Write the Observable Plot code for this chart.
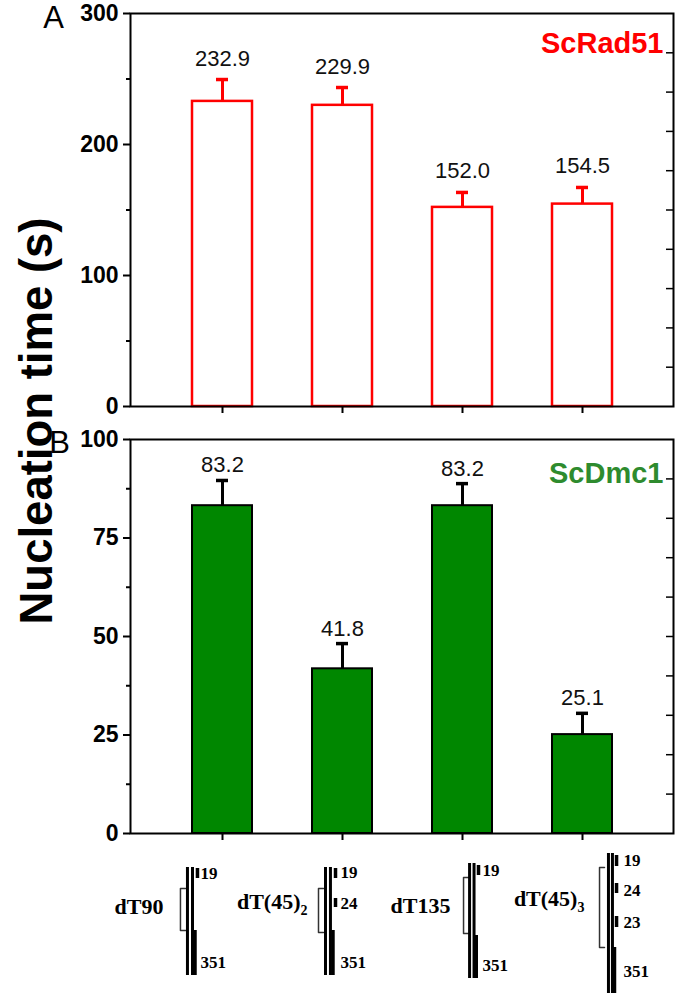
<!DOCTYPE html>
<html>
<head>
<meta charset="utf-8">
<script src="https://cdn.jsdelivr.net/npm/d3@7"></script>
<script src="https://cdn.jsdelivr.net/npm/@observablehq/plot@0.6"></script>
<style>
  body { margin: 0; background: #fff; }
  #wrap { position: relative; width: 677px; height: 996px; overflow: hidden; font-family: "Liberation Sans", Arial, sans-serif; }
  #wrap svg { position: absolute; left: 0; overflow: visible; }
  #ylab { position: absolute; left: 37px; top: 421px; transform: translate(-50%, -50%) rotate(-90deg); font: bold 45.5px "Liberation Sans", Arial, sans-serif; white-space: nowrap; line-height: 1; color: #000; }
</style>
</head>
<body>
<div id="wrap"><div id="ylab"></div></div>
<script>
// ---------- data ----------
const substrates = ["dT90", "dT(45)2", "dT135", "dT(45)3"];
const rad51Time = [232.9, 229.9, 152.0, 154.5];
const rad51Err = [16.7, 13.6, 11.4, 12.7];
const dmc1Time = [83.2, 41.8, 83.2, 25.1];
const dmc1Err = [6.4, 6.4, 5.6, 5.4];

const rad51Ticks = [0, 100, 200, 300];
const rad51Minor = [50, 150, 250];
const rad51Right = [30, 60, 90, 120, 150, 180, 210, 240, 270];
const dmc1Ticks = [0, 25, 50, 75, 100];
const dmc1Minor = [12.5, 37.5, 62.5, 87.5];
const dmc1Right = [10, 20, 30, 40, 50, 60, 70, 80, 90];

const yTitle = "Nucleation time (s)";
const panelNames = ["ScRad51", "ScDmc1"];
const panelLetters = ["A", "B"];

const diagramNames = ["dT90", "dT(45)", "dT135", "dT(45)"];
const diagramSubscripts = ["", "2", "", "3"];
const diagramSegmentLabels = [["19", "351"], ["19", "24", "351"], ["19", "351"], ["19", "24", "23", "351"]];

// ---------- layout (schematic positions of the substrate drawings) ----------
const diagramLayout = [
  {label: -0.477, labelY: 71, subY: 77, lines: [-0.278, -0.236], seg: -0.195, text: -0.170, bracket: [-0.336, -0.294], span: [25, 133], bracketY: [46, 88], segY: [[26, 36], [88, 133]], textY: [36, 125]},
  {label: -0.341, labelY: 66, subY: 72, lines: [-0.134, -0.093], seg: -0.051, text: -0.010, bracket: [-0.192, -0.151], span: [25, 133], bracketY: [46, 90], segY: [[26, 36], [56, 65], [88, 133]], textY: [35, 66, 125]},
  {label: -0.098, labelY: 70, subY: 76, lines: [0.060, 0.097], seg: 0.134, text: 0.167, bracket: [0.010, 0.051], span: [21, 136], bracketY: [35, 91], segY: [[23, 33], [93, 136]], textY: [33, 128]},
  {label: -0.046, labelY: 63, subY: 69, lines: [0.211, 0.244], seg: 0.278, text: 0.336, bracket: [0.137, 0.178], span: [11, 151], bracketY: [25, 105], segY: [[13, 24], [41, 51], [74, 85], [105, 151]], textY: [23, 53, 85, 134]}
];

const SANS = '"Liberation Sans", Arial, sans-serif';
const SERIF = '"Liberation Serif", "Times New Roman", serif';

document.getElementById("ylab").textContent = yTitle;

function panel(o) {
  const data = substrates.map((s, i) => ({s, v: o.values[i], top: o.values[i] + o.errs[i], label: o.values[i].toFixed(1)}));
  return Plot.plot({
    width: 677, height: o.height,
    marginLeft: 130, marginRight: 4, marginTop: o.mt, marginBottom: o.mb,
    style: {fontFamily: SANS, background: "transparent", overflow: "visible"},
    x: {domain: substrates, padding: 0.5},
    y: {domain: o.domain},
    marks: [
      Plot.barY(data, {x: "s", y: "v", fill: o.fill, stroke: o.stroke, strokeWidth: o.barStroke}),
      Plot.ruleX(data, {x: "s", y1: "v", y2: "top", stroke: o.stroke, strokeWidth: 3}),
      Plot.tickY(data, {x: "s", y: "top", stroke: o.stroke, strokeWidth: 3.5, insetLeft: 24, insetRight: 24}),
      Plot.text(data, {x: "s", y: "top", text: "label", dy: -o.labelGap, lineAnchor: "bottom", fontSize: 22, fill: "#111"}),
      Plot.frame({stroke: "#000", strokeWidth: 2}),
      Plot.axisY({anchor: "left", ticks: o.ticks, tickSize: 7, tickPadding: 5, fontSize: 23, fontWeight: "bold", label: null, strokeWidth: 2, fill: "#000"}),
      Plot.axisY({anchor: "left", ticks: o.minor, tickSize: 4, tickFormat: () => "", label: null, strokeWidth: 2}),
      Plot.axisY({anchor: "right", ticks: o.right, tickSize: -8, tickFormat: () => "", label: null, strokeWidth: 1.5}),
      Plot.axisX({anchor: "bottom", tickSize: 7, tickFormat: () => "", label: null, strokeWidth: 2}),
      Plot.text([o.name], {frameAnchor: "top-right", dx: -10, dy: o.nameDy, lineAnchor: "top", textAnchor: "end", fill: o.nameColor, fontWeight: "bold", fontSize: 29}),
      Plot.text([o.letter], {frameAnchor: "top-left", dx: o.letterDx, dy: o.letterDy, lineAnchor: "top", textAnchor: "middle", fontSize: 31, fill: "#000"})
    ]
  });
}

const topPanel = panel({
  values: rad51Time, errs: rad51Err, domain: [0, 300], ticks: rad51Ticks, minor: rad51Minor, right: rad51Right,
  height: 422, mt: 13, mb: 16, fill: "#fff", stroke: "#ff0000", barStroke: 2.5, labelGap: 14,
  name: panelNames[0], nameColor: "#ff0000", nameDy: 19, letter: panelLetters[0], letterDx: -77, letterDy: -8
});
topPanel.style.top = "0px";

const bottomPanel = panel({
  values: dmc1Time, errs: dmc1Err, domain: [0, 100], ticks: dmc1Ticks, minor: dmc1Minor, right: dmc1Right,
  height: 420, mt: 17, mb: 9, fill: "#008700", stroke: "#000", barStroke: 2, labelGap: 8,
  name: panelNames[1], nameColor: "#2e8b2e", nameDy: 23, letter: panelLetters[1], letterDx: -71, letterDy: -9
});
bottomPanel.style.top = "422px";

// ---------- substrate drawings ----------
const lineData = [], segData = [], bracketData = [], numData = [], nameData = [], subData = [];
diagramLayout.forEach((L, i) => {
  L.lines.forEach(lx => lineData.push({x: i + lx, y1: L.span[0], y2: L.span[1]}));
  const labels = diagramSegmentLabels[i];
  labels.forEach((t, j) => {
    const last = j === labels.length - 1;
    const sx = last ? (L.lines[1] + L.seg) / 2 : L.seg;
    segData.push({x: i + sx, y1: L.segY[j][0], y2: L.segY[j][1]});
    numData.push({x: i + L.text, y: L.textY[j], text: t});
  });
  const [bx, ax] = L.bracket, [b1, b2] = L.bracketY;
  bracketData.push({x: i + ax, y: b1, z: i}, {x: i + bx, y: b1, z: i}, {x: i + bx, y: b2, z: i}, {x: i + ax, y: b2, z: i});
  nameData.push({x: i + L.label, y: L.labelY, text: diagramNames[i]});
  subData.push({x: i + L.label, y: L.subY, text: diagramSubscripts[i]});
});

const diagPanel = Plot.plot({
  width: 677, height: 154, marginLeft: 130, marginRight: 4, marginTop: 0, marginBottom: 0,
  style: {fontFamily: SERIF, background: "transparent", overflow: "visible"},
  x: {domain: [-0.75, 3.75], axis: null},
  y: {domain: [0, 154], reverse: true, axis: null},
  marks: [
    Plot.line(bracketData, {x: "x", y: "y", z: "z", stroke: "#333", strokeWidth: 1.5, curve: "linear"}),
    Plot.ruleX(lineData, {x: "x", y1: "y1", y2: "y2", stroke: "#000", strokeWidth: 3}),
    Plot.ruleX(segData, {x: "x", y1: "y1", y2: "y2", stroke: "#000", strokeWidth: 3.5}),
    Plot.text(numData, {x: "x", y: "y", text: "text", textAnchor: "start", lineAnchor: "bottom", fontSize: 17, fontWeight: "bold", fill: "#000"}),
    Plot.text(nameData, {x: "x", y: "y", text: "text", textAnchor: "end", lineAnchor: "bottom", fontSize: 22, fontWeight: "bold", fill: "#000"}),
    Plot.text(subData, {x: "x", y: "y", text: "text", textAnchor: "start", lineAnchor: "bottom", fontSize: 14, fontWeight: "bold", fill: "#000"})
  ]
});
diagPanel.style.top = "842px";

const wrap = document.getElementById("wrap");
wrap.appendChild(topPanel);
wrap.appendChild(bottomPanel);
wrap.appendChild(diagPanel);
</script>
</body>
</html>
